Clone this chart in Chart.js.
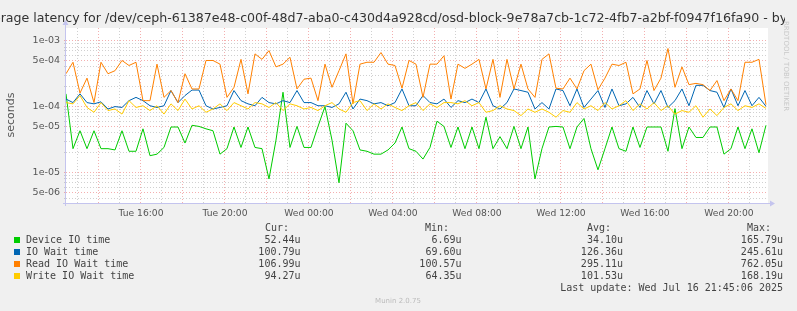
<!DOCTYPE html>
<html>
<head>
<meta charset="utf-8">
<script src="https://cdn.jsdelivr.net/npm/chart.js@4.4.0/dist/chart.umd.min.js"></script>
<style>
html, body { margin: 0; padding: 0; background: #f0f0f0; }
#wrap { width: 797px; height: 311px; }
</style>
</head>
<body>
<div id="wrap"><canvas id="latencyChart" width="797" height="311"></canvas></div>
<script>
// samples are every 20 minutes, starting Tue 12:26 (hours since Tue 00:00)
const startHour = 12.43;
const stepHours = 1 / 3;

// values in microseconds
const deviceIO = [156, 23, 43, 23, 43, 23, 23, 22, 43, 21, 21, 46, 18, 19, 24, 49, 49, 28, 52, 50,
    46, 43, 19, 23, 49, 24, 49, 24, 23, 8, 31, 165, 24, 50, 24, 24, 50, 100, 31, 7,
    56, 43, 22, 21, 19, 19, 22, 28, 49, 23, 21, 16, 24, 60, 50, 24, 49, 23, 49, 23,
    69, 23, 35, 23, 50, 23, 49, 8, 23, 49, 50, 49, 23, 49, 66, 23, 11, 23, 49, 23,
    21, 49, 24, 49, 49, 49, 21, 93, 23, 49, 34, 34, 49, 49, 19, 23, 49, 23, 46, 20, 52];
const ioWait = [130, 115, 156, 115, 110, 118, 92, 100, 97, 123, 138, 123, 103, 97, 103, 175, 115, 147, 178, 178,
    103, 92, 97, 103, 175, 123, 110, 103, 138, 115, 110, 123, 115, 175, 115, 115, 103, 103, 97, 110,
    165, 92, 130, 123, 110, 115, 103, 115, 185, 103, 103, 147, 115, 110, 130, 97, 123, 115, 130, 115,
    185, 103, 92, 115, 185, 175, 165, 92, 115, 92, 185, 175, 103, 185, 97, 130, 175, 97, 185, 103,
    110, 138, 97, 175, 110, 175, 97, 123, 185, 103, 210, 210, 175, 165, 97, 185, 103, 175, 103, 138, 101];
const readIOWait = [315, 470, 160, 270, 115, 470, 315, 350, 500, 420, 470, 123, 123, 440, 138, 175, 115, 315, 185, 185,
    500, 500, 440, 138, 196, 520, 156, 630, 520, 705, 400, 440, 560, 185, 260, 270, 123, 440, 196, 350,
    630, 110, 440, 470, 470, 660, 440, 420, 190, 500, 440, 138, 440, 440, 590, 130, 440, 380, 440, 520,
    185, 520, 138, 520, 185, 440, 185, 138, 520, 630, 190, 185, 270, 185, 350, 440, 180, 270, 440, 420,
    470, 156, 185, 500, 175, 270, 760, 196, 400, 215, 225, 215, 175, 248, 123, 185, 123, 470, 470, 520, 107];
const writeIOWait = [115, 110, 147, 97, 82, 115, 87, 92, 77, 123, 97, 103, 87, 103, 77, 110, 87, 130, 92, 103,
    82, 92, 110, 87, 115, 103, 92, 115, 110, 97, 115, 87, 110, 103, 92, 97, 87, 103, 115, 92,
    82, 115, 123, 87, 110, 92, 110, 97, 87, 103, 115, 87, 110, 97, 115, 115, 110, 123, 103, 115,
    82, 87, 103, 92, 87, 73, 92, 82, 92, 82, 69, 87, 82, 115, 92, 103, 87, 115, 92, 103,
    123, 87, 110, 92, 115, 87, 103, 77, 87, 82, 103, 69, 92, 73, 97, 110, 87, 103, 97, 110, 94];

const seriesNames = ['Device IO time', 'IO Wait time', 'Read IO Wait time', 'Write IO Wait time'];
const seriesColors = ['#00cc00', '#0066b3', '#ff8000', '#ffcc00'];
const curValues = ['52.44u', '100.79u', '106.99u', '94.27u'];
const minValues = ['6.69u', '69.60u', '100.57u', '64.35u'];
const avgValues = ['34.10u', '126.36u', '295.11u', '101.53u'];
const maxValues = ['165.79u', '245.61u', '762.05u', '168.19u'];

const titleText = 'Average latency for /dev/ceph-61387e48-c00f-48d7-aba0-c430d4a928cd/osd-block-9e78a7cb-1c72-4fb7-a2bf-f0947f16fa90 - by day';
const lastUpdate = 'Last update: Wed Jul 16 21:45:06 2025';

const MAJOR = 'rgba(235, 110, 110, 0.55)';
const MINOR = 'rgba(170, 170, 170, 0.55)';

function toPoints(values) {
    return values.map((v, i) => ({ x: startHour + i * stepHours, y: v * 1e-6 }));
}

function mantissa(v) {
    const e = Math.floor(Math.log10(v) + 1e-9);
    return Math.round(v / Math.pow(10, e));
}

function yGridColor(c) {
    if (!c.tick) return MINOR;
    const m = mantissa(c.tick.value);
    return (m === 1 || m === 5) ? MAJOR : MINOR;
}

const allSeries = [deviceIO, ioWait, readIOWait, writeIOWait];
const datasets = allSeries.map((vals, i) => ({
    label: seriesNames[i],
    data: toPoints(vals),
    borderColor: seriesColors[i],
    borderWidth: 1,
    pointRadius: 0,
    fill: false,
    tension: 0,
    order: 4 - i
}));

const munin = {
    id: 'munin',
    beforeDraw(chart) {
        const { ctx, chartArea: a } = chart;
        ctx.save();
        ctx.fillStyle = '#f0f0f0';
        ctx.fillRect(0, 0, chart.width, chart.height);
        ctx.fillStyle = '#ffffff';
        ctx.fillRect(a.left, a.top, a.right - a.left, a.bottom - a.top);
        ctx.restore();
    },
    afterDraw(chart) {
        const { ctx, chartArea: a } = chart;
        ctx.save();

        // axes with arrows
        ctx.strokeStyle = '#c4c4ee';
        ctx.fillStyle = '#c4c4ee';
        ctx.lineWidth = 1;
        ctx.beginPath();
        ctx.moveTo(a.left - 3, a.bottom + 0.5);
        ctx.lineTo(a.right + 2, a.bottom + 0.5);
        ctx.moveTo(a.left - 0.5, a.bottom + 3);
        ctx.lineTo(a.left - 0.5, a.top - 3);
        ctx.stroke();
        ctx.beginPath();
        ctx.moveTo(a.right + 7, a.bottom + 0.5);
        ctx.lineTo(a.right + 2, a.bottom - 2.5);
        ctx.lineTo(a.right + 2, a.bottom + 3.5);
        ctx.fill();
        ctx.beginPath();
        ctx.moveTo(a.left - 0.5, a.top - 8);
        ctx.lineTo(a.left - 3.5, a.top - 3);
        ctx.lineTo(a.left + 2.5, a.top - 3);
        ctx.fill();

        // title (too wide for the image, clipped like the original)
        ctx.save();
        ctx.beginPath();
        ctx.rect(0, 0, 785, 27);
        ctx.clip();
        ctx.fillStyle = '#333333';
        ctx.font = "12.6px 'DejaVu Sans'";
        ctx.textAlign = 'center';
        ctx.textBaseline = 'alphabetic';
        ctx.fillText(titleText, 396, 22);
        ctx.restore();

        // vertical unit label
        ctx.save();
        ctx.translate(11, 115);
        ctx.rotate(-Math.PI / 2);
        ctx.fillStyle = '#555555';
        ctx.font = "11px 'DejaVu Sans'";
        ctx.textAlign = 'center';
        ctx.textBaseline = 'middle';
        ctx.fillText('seconds', 0, 0);
        ctx.restore();

        // rrdtool watermark
        ctx.save();
        ctx.translate(786, 21);
        ctx.rotate(Math.PI / 2);
        ctx.fillStyle = '#c8c8c8';
        ctx.font = "7px 'DejaVu Sans'";
        ctx.textAlign = 'left';
        ctx.textBaseline = 'middle';
        ctx.fillText('RRDTOOL / TOBI OETIKER', 0, 0);
        ctx.restore();

        // legend
        ctx.font = "10px 'DejaVu Sans Mono'";
        ctx.textBaseline = 'middle';
        ctx.fillStyle = '#444444';
        ctx.textAlign = 'left';
        ctx.fillText('Cur:', 265, 228);
        ctx.fillText('Min:', 425, 228);
        ctx.fillText('Avg:', 587, 228);
        ctx.fillText('Max:', 747, 228);
        seriesNames.forEach((name, i) => {
            const y = 240 + i * 12;
            ctx.fillStyle = seriesColors[i];
            ctx.fillRect(14, y - 3, 6, 6);
            ctx.fillStyle = '#444444';
            ctx.textAlign = 'left';
            ctx.fillText(name, 26, y);
            ctx.textAlign = 'right';
            ctx.fillText(curValues[i], 300.5, y);
            ctx.fillText(minValues[i], 461.5, y);
            ctx.fillText(avgValues[i], 623, y);
            ctx.fillText(maxValues[i], 783, y);
        });
        ctx.textAlign = 'right';
        ctx.fillText(lastUpdate, 783, 288);

        ctx.fillStyle = '#bbbbbb';
        ctx.font = "7px 'DejaVu Sans'";
        ctx.textAlign = 'center';
        ctx.fillText('Munin 2.0.75', 398, 301);
        ctx.restore();
    }
};

new Chart(document.getElementById('latencyChart'), {
    type: 'line',
    data: { datasets },
    plugins: [munin],
    options: {
        responsive: false,
        animation: false,
        events: [],
        layout: { padding: { top: 28, right: 29, left: 0, bottom: 0 } },
        plugins: {
            legend: { display: false },
            title: { display: false },
            tooltip: { enabled: false }
        },
        scales: {
            x: {
                type: 'linear',
                min: 12.43,
                max: 45.86,
                afterBuildTicks(scale) {
                    const ticks = [];
                    for (let h = 13; h <= 45; h++) ticks.push({ value: h });
                    scale.ticks = ticks;
                },
                afterFit(scale) { scale.height = 108; },
                grid: {
                    drawTicks: true,
                    tickLength: 3,
                    tickBorderDash: [1, 2],
                    tickColor: (c) => (c.tick && c.tick.value % 2 === 0) ? MAJOR : 'rgba(0,0,0,0)',
                    color: (c) => (c.tick && c.tick.value % 2 === 0) ? MAJOR : MINOR
                },
                border: { display: false, dash: [1, 2] },
                ticks: {
                    autoSkip: false,
                    maxRotation: 0,
                    padding: 2,
                    color: '#555555',
                    font: { family: "'DejaVu Sans'", size: 9.2 },
                    callback: (v) => {
                        if (v % 4 !== 0) return '';
                        const day = v < 24 ? 'Tue' : 'Wed';
                        const hh = String(v % 24).padStart(2, '0');
                        return `${day} ${hh}:00`;
                    }
                }
            },
            y: {
                type: 'logarithmic',
                min: 3.45e-6,
                max: 1.555e-3,
                afterBuildTicks(scale) {
                    const ticks = [];
                    for (let e = -6; e <= -3; e++) {
                        for (let m = 1; m <= 9; m++) {
                            const v = m * Math.pow(10, e);
                            if (v >= 3.45e-6 && v <= 1.555e-3) ticks.push({ value: v });
                        }
                    }
                    scale.ticks = ticks;
                },
                afterFit(scale) { scale.width = 66; },
                grid: {
                    drawTicks: true,
                    tickLength: 2,
                    tickBorderDash: [1, 2],
                    tickColor: yGridColor,
                    color: yGridColor
                },
                border: { display: false, dash: [1, 2] },
                ticks: {
                    autoSkip: false,
                    padding: 4,
                    color: '#555555',
                    font: { family: "'DejaVu Sans'", size: 9.5 },
                    callback: (v) => {
                        const m = mantissa(v);
                        if (m !== 1 && m !== 5) return '';
                        const e = Math.round(Math.log10(v / m));
                        return `${m}e-${String(-e).padStart(2, '0')}`;
                    }
                }
            }
        }
    }
});
</script>
</body>
</html>
